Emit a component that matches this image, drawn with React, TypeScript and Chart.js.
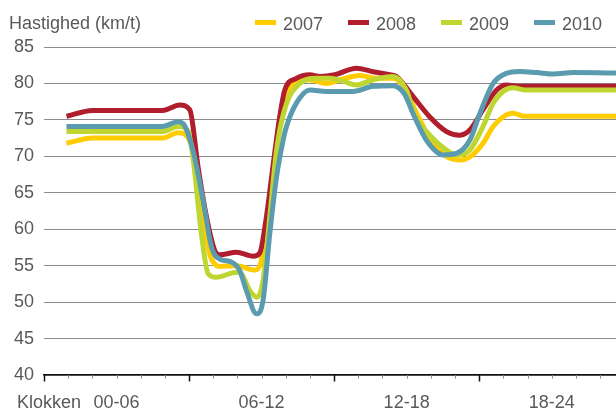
import React, { useEffect, useRef } from "react";
import { Chart, registerables } from "chart.js";

Chart.register(...registerables);

// ---------- data ----------
const seriesNames = ["2007", "2008", "2009", "2010"];
const seriesColors = ["#FFCC00", "#B01E2D", "#BFD630", "#5A9BAF"];

const hours2007 = [0.93, 2.01, 4.91, 5.54, 5.95, 6.2, 6.55, 6.86, 7.06, 7.27, 7.96, 8.72, 8.95, 9.15, 9.47, 9.75, 10.17, 10.99, 11.68, 12.24, 13.06, 13.75, 14.44, 14.9, 15.4, 15.96, 16.65, 17.25, 17.61, 18.16, 18.58, 18.99, 19.4, 19.9, 24];
const speed2007 = [71.8, 72.5, 72.5, 73.25, 72.6, 70.2, 62.5, 56.5, 55.25, 54.9, 55.0, 54.4, 55.2, 59.4, 67.6, 75.0, 79.4, 80.5, 80.0, 80.5, 81.1, 80.7, 80.7, 79.5, 76.0, 72.5, 70.0, 69.5, 69.9, 71.8, 74.1, 75.4, 75.9, 75.5, 75.5];

const hours2008 = [0.93, 2.01, 4.91, 5.61, 6.03, 6.37, 6.72, 7.06, 7.27, 7.96, 8.65, 8.92, 9.2, 9.47, 9.75, 9.96, 10.44, 10.99, 11.41, 12.03, 12.93, 13.61, 14.3, 14.58, 15.27, 15.96, 16.65, 17.2, 17.61, 18.16, 18.72, 19.13, 19.68, 24];
const speed2008 = [75.5, 76.3, 76.3, 77.05, 76.4, 68.6, 61.7, 57.1, 56.5, 56.85, 56.3, 56.7, 61.7, 68.6, 75.4, 79.1, 80.7, 81.2, 80.95, 81.2, 82.1, 81.6, 81.2, 80.95, 78.2, 75.4, 73.4, 72.9, 73.6, 76.4, 79.1, 79.8, 79.6, 79.6];

const hours2009 = [0.93, 4.91, 5.54, 5.95, 6.16, 6.51, 6.79, 7.13, 7.96, 8.16, 8.51, 8.81, 9.06, 9.34, 9.62, 9.96, 10.58, 11.27, 11.82, 12.37, 12.93, 13.61, 14.44, 14.99, 15.35, 15.96, 16.65, 17.06, 17.61, 18.16, 18.58, 18.99, 19.4, 19.9, 24];
const speed2009 = [73.4, 73.4, 74.1, 73.5, 69.9, 59.4, 53.9, 53.4, 54.1, 53.9, 51.6, 50.65, 52.95, 61.7, 70.85, 76.5, 80.0, 80.7, 80.7, 80.3, 79.8, 80.5, 80.95, 79.1, 75.5, 72.9, 70.85, 70.2, 70.85, 74.1, 77.3, 78.9, 79.4, 79.1, 79.1];

const hours2010 = [0.93, 4.91, 5.54, 5.75, 6.16, 6.58, 6.93, 7.27, 7.75, 8.1, 8.37, 8.79, 9.06, 9.34, 9.62, 9.89, 10.03, 10.44, 10.99, 11.68, 12.78, 13.61, 14.44, 14.9, 15.3, 15.82, 16.51, 17.06, 17.61, 18.03, 18.58, 19.13, 19.68, 20.37, 21.06, 21.89, 24];
const speed2010 = [74.1, 74.1, 74.75, 74.5, 70.85, 63.97, 57.55, 55.9, 55.5, 54.3, 51.6, 48.4, 50.2, 59.4, 67.2, 72.2, 74.1, 77.3, 79.1, 78.9, 78.9, 79.6, 79.7, 78.6, 75.6, 72.2, 70.2, 70.4, 72.2, 75.9, 80.0, 81.4, 81.65, 81.5, 81.3, 81.5, 81.4];

const seriesHours = [hours2007, hours2008, hours2009, hours2010];
const seriesSpeeds = [speed2007, speed2008, speed2009, speed2010];

const xBlockLabels = ["00-06", "06-12", "12-18", "18-24"];
const xBlockCenters = [3, 9, 15, 21];
const hourTicks = [0, 1, 2, 3, 4, 5, 6, 7, 8, 9, 10, 11, 12, 13, 14, 15, 16, 17, 18, 19, 20, 21, 22, 23, 24];
const xAxisPrefix = "Klokken";
const yAxisTitle = "Hastighed (km/t)";
const yMin = 40;
const yMax = 85;
const yStep = 5;

// ---------- styles ----------
const FONT = '"Liberation Sans", Arial, sans-serif';
const TEXT_COLOR = "#595959";

export default function App() {
  const ref = useRef<HTMLCanvasElement | null>(null);

  useEffect(() => {
    const canvas = ref.current;
    if (!canvas) return;

    const datasets = seriesNames.map((name, i) => ({
      label: name,
      data: seriesHours[i].map((h, j) => ({ x: h, y: seriesSpeeds[i][j] })),
      borderColor: seriesColors[i],
      backgroundColor: seriesColors[i],
      borderWidth: 5,
      pointRadius: 0,
      pointHoverRadius: 0,
      fill: false,
      tension: 0.4,
      cubicInterpolationMode: "monotone" as const,
      borderJoinStyle: "round" as const,
      order: seriesNames.length - i,
    }));

    const overlay = {
      id: "overlay",
      afterDraw(chart: any) {
        const c = chart.ctx as CanvasRenderingContext2D;
        const xs = chart.scales.x;
        const bottom = chart.chartArea.bottom;
        c.save();
        // hour tick marks
        for (const h of hourTicks) {
          if (h > xs.max) continue;
          const px = Math.round(xs.getPixelForValue(h)) + 0.5;
          const major = h % 6 === 0;
          c.strokeStyle = major ? "#111" : "#888";
          c.lineWidth = major ? 1.5 : 1;
          c.beginPath();
          c.moveTo(px, bottom);
          c.lineTo(px, bottom + (major ? 6.5 : 3.5));
          c.stroke();
        }
        c.font = `18px ${FONT}`;
        c.fillStyle = TEXT_COLOR;
        c.textBaseline = "alphabetic";
        c.textAlign = "left";
        c.fillText(xAxisPrefix, 17, 408);
        c.fillText(yAxisTitle, 9, 29);
        // legend
        let lx = 255;
        seriesNames.forEach((name, i) => {
          c.fillStyle = seriesColors[i];
          c.fillRect(lx, 20, 21, 5);
          c.fillStyle = TEXT_COLOR;
          c.fillText(name, lx + 28, 29.5);
          lx += 93;
        });
        c.restore();
      },
    };

    const chart = new Chart(canvas, {
      type: "line",
      data: { datasets },
      options: {
        animation: false,
        responsive: false,
        devicePixelRatio: 1,
        layout: { padding: { top: 47, right: 0, bottom: 0, left: 0 } },
        plugins: {
          legend: { display: false },
          tooltip: { enabled: false },
        },
        scales: {
          x: {
            type: "linear",
            min: 0,
            max: 23.66,
            grid: { display: false, drawTicks: false },
            border: { display: true, color: "#111", width: 1.5 },
            afterBuildTicks: (scale: any) => {
              scale.ticks = xBlockCenters.map((v) => ({ value: v }));
            },
            afterFit: (scale: any) => {
              scale.height = 37;
            },
            ticks: {
              autoSkip: false,
              maxRotation: 0,
              padding: 17,
              color: TEXT_COLOR,
              font: { family: FONT, size: 18 },
              callback: (value: any) => {
                const idx = xBlockCenters.indexOf(Number(value));
                return idx >= 0 ? xBlockLabels[idx] : "";
              },
            },
          },
          y: {
            type: "linear",
            min: yMin,
            max: yMax,
            grid: { color: "#8c8c8c", lineWidth: 1, drawTicks: false },
            border: { display: false },
            afterFit: (scale: any) => {
              scale.width = 44;
            },
            ticks: {
              stepSize: yStep,
              padding: 10,
              color: TEXT_COLOR,
              font: { family: FONT, size: 18 },
            },
          },
        },
      },
      plugins: [overlay],
    });

    return () => chart.destroy();
  }, []);

  return (
    <div style={{ position: "fixed", left: 0, top: 0, width: 616, height: 412, background: "#fff" }}>
      <canvas ref={ref} width={616} height={412} style={{ display: "block" }} />
    </div>
  );
}
